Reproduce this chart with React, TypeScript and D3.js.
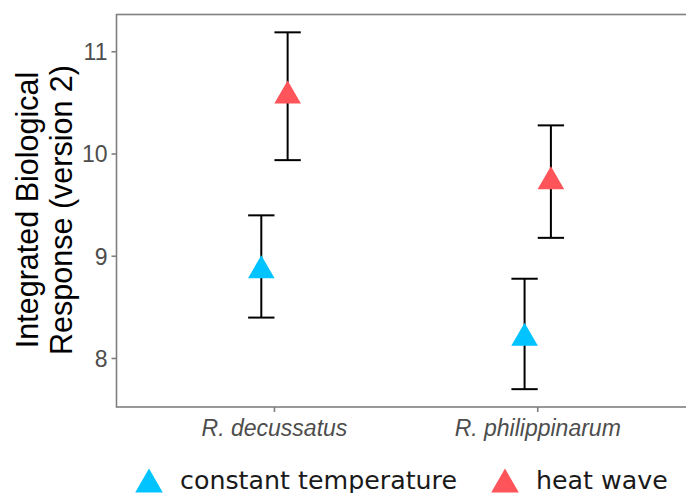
import React from 'react'
import * as d3 from 'd3'

const species = ['R. decussatus', 'R. philippinarum']
const treatments = ['constant temperature', 'heat wave']
const colors = ['#00c3ff', '#ff5459']

// means and error bounds, per treatment, in species order
const means = [[8.86, 8.20], [10.57, 9.73]]
const lower = [[8.40, 7.70], [9.94, 9.18]]
const upper = [[9.40, 8.78], [11.19, 10.28]]

const yTicks = [8, 9, 10, 11]

const W = 686
const H = 493
const panel = {left: 116.5, top: 14.5, bottom: 407}

// R's pch 17 triangle
const tri = (cx, cy, xc) => {
	const r = xc / 1.347 * 1.555
	return `M${cx},${cy - r}L${cx + xc},${cy + r / 2}L${cx - xc},${cy + r / 2}Z`
}

export default function App() {
	const lo = d3.min(lower.flat())
	const hi = d3.max(upper.flat())
	const pad = (hi - lo) * 0.05
	const y = d3.scaleLinear().domain([lo - pad, hi + pad]).range([panel.bottom, panel.top])
	// discrete axis, 0.6 expansion on each side
	const x = d3.scaleLinear().domain([0.4, 2.6]).range([panel.left, 695.7])
	const dodge = [-0.05, 0.05]
	const unit = x(1) - x(0)
	const tick = '#7f7f7f'

	return (
		<svg width={W} height={H} style={{position: 'absolute', left: 0, top: 0}} fontFamily="'Liberation Sans', Arial, sans-serif">
			<rect x={panel.left} y={panel.top} width={x(2.6) - panel.left} height={panel.bottom - panel.top}
				fill="white" stroke={tick} strokeWidth={1.6} />

			{yTicks.map(t => (
				<g key={t}>
					<line x1={panel.left - 5} x2={panel.left} y1={y(t)} y2={y(t)} stroke={tick} strokeWidth={1.6} />
					<text x={panel.left - 9} y={y(t)} dy="0.36em" textAnchor="end" fontSize={23} fill="#4d4d4d">{t}</text>
				</g>
			))}

			{species.map((s, i) => (
				<g key={s}>
					<line x1={x(i + 1)} x2={x(i + 1)} y1={panel.bottom} y2={panel.bottom + 5} stroke={tick} strokeWidth={1.6} />
					<text x={x(i + 1)} y={436} textAnchor="middle" fontSize={23} fontStyle="italic" fill="#4d4d4d">{s}</text>
				</g>
			))}

			<text transform="translate(38,210) rotate(-90)" textAnchor="middle" fontSize={30.5} fill="black">
				<tspan x={0} y={0}>Integrated Biological</tspan>
				<tspan x={0} y={34}>Response (version 2)</tspan>
			</text>

			{treatments.map((tr, k) => (
				<g key={tr}>
					{species.map((s, i) => {
						const cx = x(i + 1 + dodge[k])
						return (
							<g key={s}>
								<line x1={cx} x2={cx} y1={y(lower[k][i])} y2={y(upper[k][i])} stroke="black" strokeWidth={2} />
								<line x1={cx - unit * 0.05} x2={cx + unit * 0.05} y1={y(lower[k][i])} y2={y(lower[k][i])} stroke="black" strokeWidth={2} />
								<line x1={cx - unit * 0.05} x2={cx + unit * 0.05} y1={y(upper[k][i])} y2={y(upper[k][i])} stroke="black" strokeWidth={2} />
								<path d={tri(cx, y(means[k][i]), 13.3)} fill={colors[k]} />
							</g>
						)
					})}
				</g>
			))}

			{/* legend */}
			{treatments.map((tr, k) => {
				const lx = [149, 505][k]
				return (
					<g key={tr}>
						<path d={tri(lx, 484.5, 13.8)} fill={colors[k]} />
						<text x={lx + 31} y={489} fontSize={25.3} fill="#1a1a1a" fontFamily="'DejaVu Sans', Verdana, sans-serif">{tr}</text>
					</g>
				)
			})}
		</svg>
	)
}
